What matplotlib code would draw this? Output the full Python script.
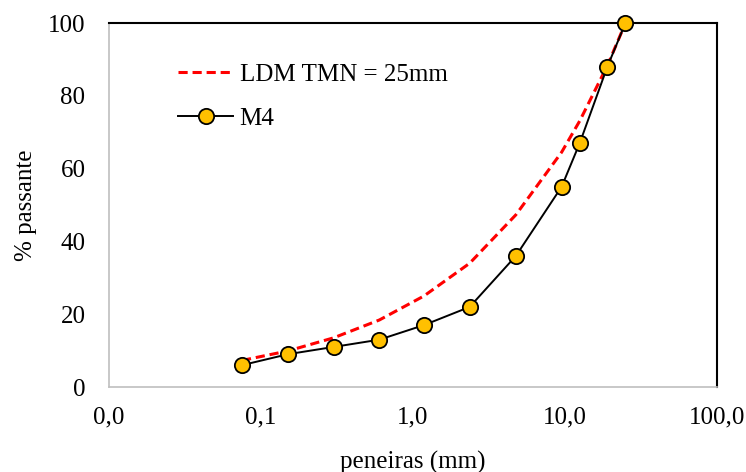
import matplotlib.pyplot as plt
from matplotlib.ticker import FixedLocator, FuncFormatter

plt.rcParams['font.family'] = ['Liberation Serif', 'DejaVu Serif']

# peneiras (mm)
sieves = [0.075, 0.15, 0.3, 0.6, 1.18, 2.36, 4.75, 9.5, 12.5, 19.0, 25.0]
# curva de maxima densidade (LDM TMN = 25mm)
ldm = [7.3, 9.9, 13.5, 18.4, 25.0, 34.0, 47.3, 64.5, 73.1, 88.3, 100.0]
# amostra M4
m4 = [6, 9, 11, 13, 17, 22, 36, 55, 67, 88, 100]

x_ticks = [0.01, 0.1, 1, 10, 100]
y_ticks = [0, 20, 40, 60, 80, 100]

fig = plt.figure(figsize=(7.46, 4.72), dpi=100)
ax = fig.add_axes([109 / 746, 85 / 472, 608 / 746, 364 / 472])

ax.plot(sieves, ldm, color='#FF0000', linestyle=(0, (3, 1.6)), linewidth=2.2,
        label='LDM TMN = 25mm', zorder=2)
ax.plot(sieves, m4, color='black', linewidth=1.4, marker='o', markersize=11,
        markerfacecolor='#FFC000', markeredgecolor='black', markeredgewidth=1.3,
        label='M4', zorder=3, clip_on=False)

ax.set_xscale('log')
ax.set_xlim(0.01, 100)
ax.set_ylim(0, 100)
ax.xaxis.set_major_locator(FixedLocator(x_ticks))
ax.xaxis.set_minor_locator(FixedLocator([]))
ax.xaxis.set_major_formatter(FuncFormatter(lambda v, p: f'{v:.1f}'.replace('.', ',')))
ax.set_yticks(y_ticks)

ax.tick_params(axis='both', length=0, labelsize=18, colors='black')
ax.tick_params(axis='x', pad=14)
ax.tick_params(axis='y', pad=17)

for side in ['left', 'bottom']:
    ax.spines[side].set_color('#BFBFBF')
    ax.spines[side].set_linewidth(1.2)
for side in ['top', 'right']:
    ax.spines[side].set_color('black')
    ax.spines[side].set_linewidth(1.5)

ax.set_xlabel('peneiras (mm)', fontsize=18, labelpad=16)
ax.set_ylabel('% passante', fontsize=18, labelpad=8)

ax.legend(loc='upper left', bbox_to_anchor=(0.077, 0.95), frameon=False,
          fontsize=18, handlelength=2.2, handletextpad=0.25, labelspacing=0.85)

fig.savefig('out.png', dpi=100)
